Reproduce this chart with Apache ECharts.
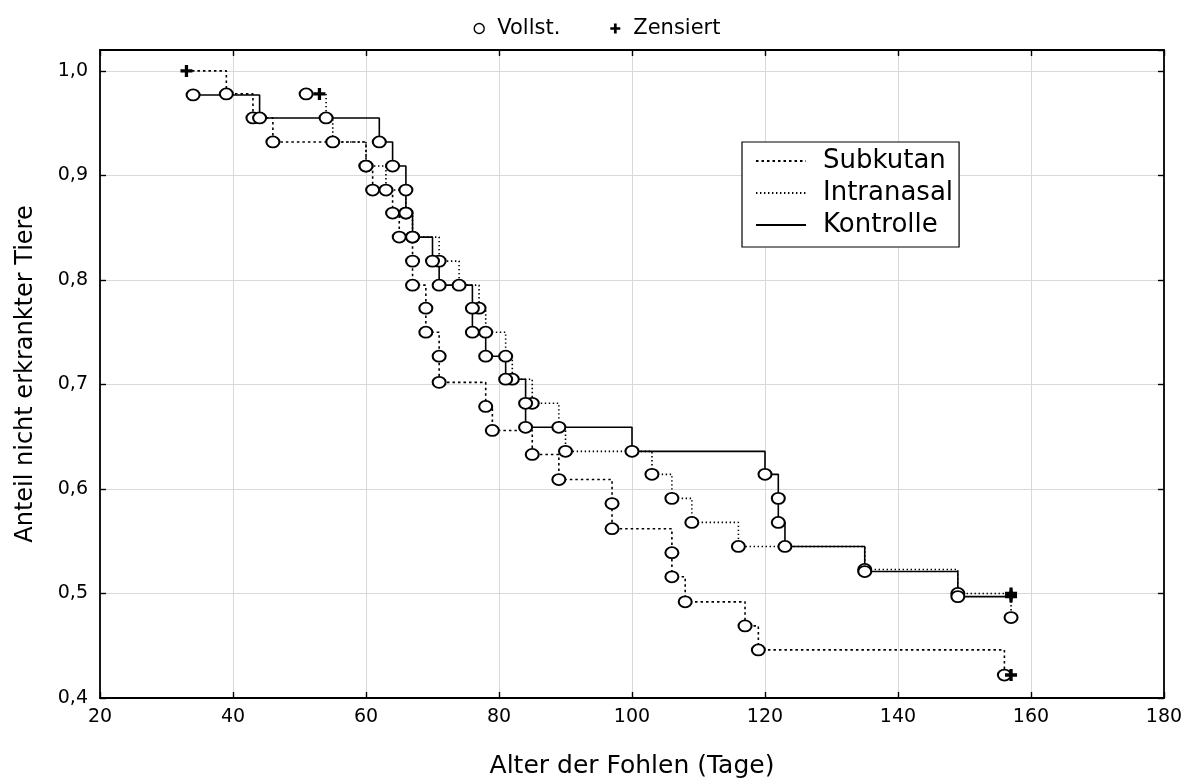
<!DOCTYPE html>
<html>
<head>
<meta charset="utf-8">
<script src="https://cdn.jsdelivr.net/npm/echarts@6/dist/echarts.min.js"></script>
<style>
  html, body { margin: 0; padding: 0; background: #fff; }
  #main { width: 1194px; height: 784px; }
</style>
</head>
<body>
<div id="main"></div>
<script>
// Kaplan-Meier Kurven, 'c' = zensiert (+), 'e' = Ereignis (o)
var subkutanDays = [33, 39, 43, 46, 60, 61, 64, 65, 67, 67, 69, 69, 71, 71, 78, 79, 85, 89, 97, 97, 106, 106, 108, 117, 119, 156, 157];
var subkutanSurv = [1.0, 0.978, 0.955, 0.932, 0.909, 0.886, 0.864, 0.841, 0.818, 0.795, 0.773, 0.75, 0.727, 0.702, 0.679, 0.656, 0.633, 0.609, 0.586, 0.562, 0.539, 0.516, 0.492, 0.469, 0.446, 0.422, 0.422];
var subkutanKind = ['c', 'e', 'e', 'e', 'e', 'e', 'e', 'e', 'e', 'e', 'e', 'e', 'e', 'e', 'e', 'e', 'e', 'e', 'e', 'e', 'e', 'e', 'e', 'e', 'e', 'e', 'c'];

var intranasalDays = [51, 53, 54, 55, 60, 63, 66, 67, 71, 74, 77, 78, 81, 82, 85, 89, 90, 103, 106, 109, 116, 135, 149, 157, 157];
var intranasalSurv = [0.978, 0.978, 0.955, 0.932, 0.909, 0.886, 0.864, 0.841, 0.818, 0.795, 0.773, 0.75, 0.727, 0.705, 0.682, 0.659, 0.636, 0.614, 0.591, 0.568, 0.545, 0.523, 0.5, 0.5, 0.477];
var intranasalKind = ['e', 'c', 'e', 'e', 'e', 'e', 'e', 'e', 'e', 'e', 'e', 'e', 'e', 'e', 'e', 'e', 'e', 'e', 'e', 'e', 'e', 'e', 'e', 'c', 'e'];

var kontrolleDays = [34, 44, 62, 64, 66, 66, 67, 70, 71, 76, 76, 78, 81, 84, 84, 100, 120, 122, 122, 123, 135, 149, 157];
var kontrolleSurv = [0.977, 0.955, 0.932, 0.909, 0.886, 0.864, 0.841, 0.818, 0.795, 0.773, 0.75, 0.727, 0.705, 0.682, 0.659, 0.636, 0.614, 0.591, 0.568, 0.545, 0.521, 0.497, 0.497];
var kontrolleKind = ['e', 'e', 'e', 'e', 'e', 'e', 'e', 'e', 'e', 'e', 'e', 'e', 'e', 'e', 'e', 'e', 'e', 'e', 'e', 'e', 'e', 'e', 'c'];

var xTicks = { min: 20, max: 180, step: 20 };
var yTicks = { min: 0.4, max: 1.02, step: 0.1 };

var FONT = 'DejaVu Sans';
var plusPath = 'path://M4,0h3v4h4v3h-4v4h-3v-4h-4v-3h4z';

function toPoints(days, surv, kind) {
  var out = [];
  for (var i = 0; i < days.length; i++) {
    if (kind[i] == 'c') {
      out.push({
        value: [days[i], surv[i]],
        symbol: plusPath,
        symbolSize: 12,
        itemStyle: { color: '#000', borderWidth: 0 }
      });
    } else {
      out.push({ value: [days[i], surv[i]] });
    }
  }
  return out;
}

function kmSeries(name, data, dash, width) {
  return {
    name: name,
    type: 'line',
    step: 'end',
    data: data,
    symbol: 'circle',
    symbolSize: [13, 11],
    showAllSymbol: true,
    itemStyle: { color: '#fff', borderColor: '#000', borderWidth: 1.9 },
    lineStyle: { color: '#000', width: width, type: dash, cap: 'butt' },
    emphasis: { disabled: true },
    z: 3
  };
}

var mChart = echarts.init(document.getElementById('main'));

var labelFmt = function (v) {
  if (Math.abs(v * 10 - Math.round(v * 10)) > 1e-6) return '';
  return v.toFixed(1).replace('.', ',');
};

var option = {
  animation: false,
  backgroundColor: '#fff',
  grid: { left: 100, right: 30, top: 50, bottom: 83, show: false },
  legend: [
    {
      // Legende der Gruppen
      orient: 'vertical',
      left: 742,
      top: 142,
      data: ['Subkutan', 'Intranasal', 'Kontrolle'],
      backgroundColor: '#fff',
      borderColor: '#000',
      borderWidth: 1.2,
      padding: [6, 6, 9, 13],
      itemWidth: 50,
      itemHeight: 14,
      itemGap: 6,
      itemStyle: { opacity: 0 },
      selectedMode: false,
      textStyle: { fontFamily: FONT, fontSize: 26, color: '#000', padding: [0, 0, 0, 12] }
    },
    {
      // Symbol-Legende oben
      top: 13,
      left: 'center',
      data: [
        { name: 'Vollst.', icon: 'circle', itemStyle: { color: '#fff', borderColor: '#000', borderWidth: 1.4 } },
        { name: 'Zensiert', icon: plusPath, itemStyle: { color: '#000', borderWidth: 0 } }
      ],
      itemWidth: 10,
      itemHeight: 10,
      itemGap: 50,
      selectedMode: false,
      textStyle: { fontFamily: FONT, fontSize: 21, color: '#000', padding: [0, 0, 0, 8] }
    }
  ],
  xAxis: [
    {
      type: 'value',
      position: 'bottom',
      min: xTicks.min,
      max: xTicks.max,
      interval: xTicks.step,
      name: 'Alter der Fohlen (Tage)',
      nameLocation: 'middle',
      nameGap: 56,
      nameTextStyle: { fontFamily: FONT, fontSize: 25, color: '#000' },
      axisLine: { show: true, lineStyle: { color: '#000', width: 1.8 } },
      axisTick: { show: true, inside: true, length: 6, lineStyle: { color: '#000', width: 1.4 } },
      axisLabel: { fontFamily: FONT, fontSize: 19, color: '#000', margin: 10 },
      splitLine: { show: true, lineStyle: { color: '#d9d9d9', width: 1 } }
    },
    {
      type: 'value',
      position: 'top',
      min: xTicks.min,
      max: xTicks.max,
      interval: xTicks.step,
      axisLine: { show: true, lineStyle: { color: '#000', width: 1.8 } },
      axisTick: { show: true, inside: true, length: 6, lineStyle: { color: '#000', width: 1.4 } },
      axisLabel: { show: false },
      splitLine: { show: false }
    }
  ],
  yAxis: [
    {
      type: 'value',
      position: 'left',
      min: yTicks.min,
      max: yTicks.max,
      interval: yTicks.step,
      name: 'Anteil nicht erkrankter Tiere',
      nameLocation: 'middle',
      nameGap: 62,
      nameTextStyle: { fontFamily: FONT, fontSize: 24, color: '#000' },
      axisLine: { show: true, lineStyle: { color: '#000', width: 1.8 } },
      axisTick: { show: true, inside: true, length: 6, lineStyle: { color: '#000', width: 1.4 } },
      axisLabel: { fontFamily: FONT, fontSize: 19, color: '#000', margin: 12, formatter: labelFmt, showMaxLabel: false },
      splitLine: { show: true, lineStyle: { color: '#d9d9d9', width: 1 } }
    },
    {
      type: 'value',
      position: 'right',
      min: yTicks.min,
      max: yTicks.max,
      interval: yTicks.step,
      axisLine: { show: true, lineStyle: { color: '#000', width: 1.8 } },
      axisTick: { show: true, inside: true, length: 6, lineStyle: { color: '#000', width: 1.4 } },
      axisLabel: { show: false },
      splitLine: { show: false }
    }
  ],
  series: [
    kmSeries('Subkutan', toPoints(subkutanDays, subkutanSurv, subkutanKind), [2.5, 3], 1.6),
    kmSeries('Intranasal', toPoints(intranasalDays, intranasalSurv, intranasalKind), [1.4, 2.6], 1.6),
    kmSeries('Kontrolle', toPoints(kontrolleDays, kontrolleSurv, kontrolleKind), 'solid', 1.6),
    { name: 'Vollst.', type: 'line', data: [] },
    { name: 'Zensiert', type: 'line', data: [] }
  ]
};

mChart.setOption(option);
</script>
</body>
</html>
